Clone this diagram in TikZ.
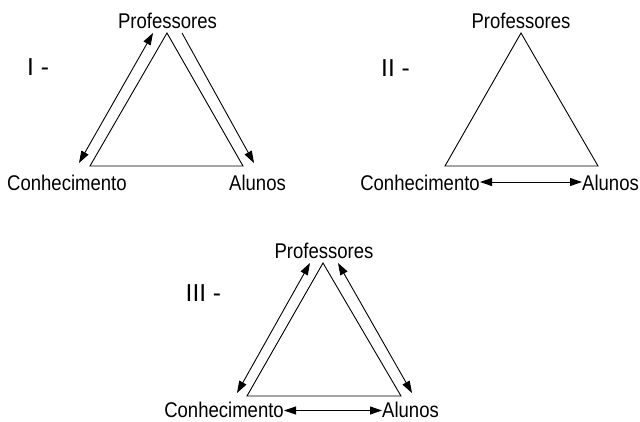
\documentclass[tikz,border=0pt]{standalone}
\usepackage{fontspec}
\setmainfont{Liberation Sans}
\newfontfamily\condfont{Liberation Sans}[FakeStretch=0.87]
\usetikzlibrary{arrows.meta}
\begin{document}
\begin{tikzpicture}[x=1pt,y=-1pt,
  lbl/.style={inner sep=0pt,font=\condfont\fontsize{21.3}{24}\selectfont},
  num/.style={inner sep=0pt,font=\fontsize{24.5}{28}\selectfont},
  tri/.style={line width=0.9pt,line join=miter},
  one/.style={line width=0.9pt,-{Triangle[length=12pt,width=8pt]}},
  two/.style={line width=0.9pt,{Triangle[length=12pt,width=8pt]}-{Triangle[length=12pt,width=8pt]}}]
\useasboundingbox (0,0) rectangle (640,421);
% ---------- I ----------
\node[lbl,anchor=base] (p1) at (167.5,28) {Professores};
\node[lbl,anchor=base west] (c1) at (7,190) {Conhecimento};
\node[lbl,anchor=base west] (a1) at (229,190) {Alunos};
\node[num,anchor=base west] (n1) at (27,75) {I -};
\coordinate (t1) at (167,33);
\coordinate (l1) at (90,166);
\coordinate (r1) at (243,166);
\draw[tri] (t1) -- (l1) -- (r1) -- cycle;
\coordinate (la1) at (79,163);
\coordinate (lb1) at (153,33);
\draw[two] (la1) -- (lb1);
\coordinate (ra1) at (182,33);
\coordinate (rb1) at (254,163);
\draw[one] (ra1) -- (rb1);
% ---------- II ----------
\node[lbl,anchor=base] (p2) at (521,28) {Professores};
\node[lbl,anchor=base east] (c2) at (480,190) {Conhecimento};
\node[lbl,anchor=base west] (a2) at (582,190) {Alunos};
\node[num,anchor=base west] (n2) at (381,76) {II -};
\coordinate (t2) at (521,33);
\coordinate (l2) at (445,166);
\coordinate (r2) at (598,166);
\draw[tri] (t2) -- (l2) -- (r2) -- cycle;
\draw[two] (c2.east |- 0,182) -- (a2.west |- 0,182);
% ---------- III ----------
\node[lbl,anchor=base] (p3) at (324,258) {Professores};
\node[lbl,anchor=base east] (c3) at (284,417.5) {Conhecimento};
\node[lbl,anchor=base west] (a3) at (382,417.5) {Alunos};
\node[num,anchor=base west] (n3) at (185.5,301) {III -};
\coordinate (t3) at (323,263);
\coordinate (l3) at (247,396);
\coordinate (r3) at (401,396);
\draw[tri] (t3) -- (l3) -- (r3) -- cycle;
\coordinate (la3) at (237,393);
\coordinate (lb3) at (310,263);
\draw[two] (la3) -- (lb3);
\coordinate (ra3) at (338,263);
\coordinate (rb3) at (412,393);
\draw[two] (ra3) -- (rb3);
\draw[two] (c3.east |- 0,410.5) -- (a3.west |- 0,410.5);
\end{tikzpicture}
\end{document}
